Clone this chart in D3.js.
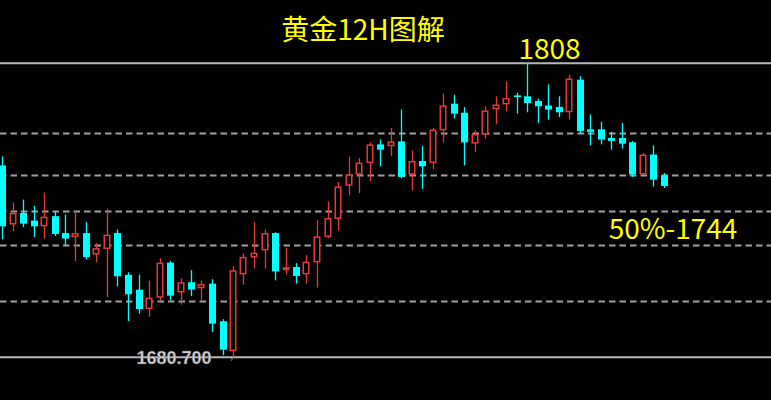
<!DOCTYPE html>
<html>
<head>
<meta charset="utf-8">
<script src="https://cdn.jsdelivr.net/npm/d3@7/dist/d3.min.js"></script>
<style>
  html, body { margin: 0; padding: 0; background: #000; }
  svg { display: block; }
</style>
</head>
<body>
<svg id="chart" width="771" height="400"></svg>
<script>
// ---- data ----
const openP  = [1763.8,1738.2,1743.2,1739.9,1737.4,1741.8,1734.5,1732.8,1734.5,1725.2,1727.6,1734.5,1716.4,1710.0,1701.6,1706.5,1721.7,1708.8,1713.2,1710.6,1712.6,1696.3,1683.4,1716.6,1723.9,1727.0,1734.5,1718.7,1719.8,1716.6,1721.8,1732.8,1740.6,1755.0,1759.8,1764.8,1772.9,1772.1,1774.2,1759.8,1765.7,1764.8,1779.0,1790.5,1786.6,1773.2,1777.1,1788.1,1790.2,1794.1,1793.7,1791.7,1789.7,1789.1,1786.8,1800.9,1779.4,1779.4,1775.7,1775.7,1773.8,1759.9,1768.5,1759.5];
const highP  = [1767.7,1747.7,1749.0,1746.2,1752.1,1743.9,1742.5,1744.0,1739.2,1730.2,1745.1,1736.0,1717.5,1716.5,1713.9,1723.6,1722.4,1715.0,1718.4,1713.9,1714.5,1697.2,1720.2,1725.6,1739.2,1736.0,1734.8,1728.2,1721.5,1724.9,1740.0,1748.2,1756.6,1767.6,1767.0,1773.8,1775.0,1780.0,1788.0,1770.3,1772.2,1780.0,1794.9,1794.4,1789.1,1779.0,1789.4,1793.7,1800.2,1795.3,1808.0,1792.7,1798.9,1793.7,1803.0,1802.4,1785.9,1782.6,1778.3,1782.2,1774.4,1769.2,1772.4,1760.5];
const lowP   = [1731.8,1735.4,1737.1,1732.8,1732.1,1733.2,1729.2,1722.4,1723.0,1721.8,1706.8,1711.4,1696.4,1699.6,1698.3,1705.4,1705.4,1703.5,1707.2,1705.4,1691.7,1681.6,1680.7,1712.1,1719.1,1719.1,1714.0,1716.6,1712.6,1712.6,1710.9,1732.2,1735.4,1750.8,1751.8,1756.9,1763.4,1767.9,1758.2,1753.0,1753.6,1762.1,1773.8,1784.1,1763.8,1769.6,1775.4,1781.6,1787.2,1786.2,1786.8,1782.2,1783.6,1784.7,1783.6,1777.3,1772.5,1772.9,1770.6,1771.1,1758.8,1759.9,1754.7,1754.0];
const closeP = [1737.4,1743.2,1738.6,1737.4,1741.6,1734.1,1732.1,1734.5,1724.1,1728.0,1733.8,1715.8,1708.0,1701.6,1706.5,1721.7,1707.4,1713.2,1710.0,1712.4,1695.3,1684.0,1718.4,1724.2,1726.0,1734.5,1717.9,1719.7,1715.9,1722.1,1733.1,1741.0,1754.7,1759.9,1765.0,1772.9,1770.6,1774.2,1758.8,1765.7,1763.4,1779.3,1789.8,1786.2,1773.8,1777.4,1787.6,1790.2,1793.0,1793.4,1790.8,1789.4,1788.0,1786.8,1801.4,1778.7,1778.3,1775.0,1774.4,1773.2,1759.9,1768.5,1757.6,1754.9];

const swingHigh = 1808;
const swingLow = 1680.7;
const fibLevels = [1778.0, 1759.6, 1744.2, 1729.3, 1705.2];

const titleText = "黄金12H图解";
const highLabel = "1808";
const fibLabel = "50%-1744";
const lowLabel = "1680.700";

// ---- drawing ----
const W = 771, H = 400;
const svg = d3.select("#chart");
svg.append("rect").attr("width", W).attr("height", H).attr("fill", "#000");

const candles = openP.map((o, i) => ({ i, o, h: highP[i], l: lowP[i], c: closeP[i] }));

const x = d3.scaleLinear().domain([0, candles.length - 1]).range([2, 663.5]);
const y = d3.scaleLinear().domain([swingLow, swingHigh]).range([357.3, 63.3]);

const UP = "#e23a3a", DOWN = "#00ffff";
const bodyW = 7;

// dashed fib lines
svg.append("g").selectAll("line").data(fibLevels).join("line")
  .attr("x1", 0).attr("x2", W)
  .attr("y1", d => Math.round(y(d)) + 0.5).attr("y2", d => Math.round(y(d)) + 0.5)
  .attr("stroke", "#a0a0a0").attr("stroke-width", 1.8)
  .attr("stroke-dasharray", "6.5,4");

// solid swing lines
svg.append("g").selectAll("line").data([swingHigh, swingLow]).join("line")
  .attr("x1", 0).attr("x2", W)
  .attr("y1", d => y(d)).attr("y2", d => y(d))
  .attr("stroke", "#b8b8b8").attr("stroke-width", 2);

// candles
const g = svg.append("g");
g.selectAll("line.wick").data(candles).join("line")
  .attr("class", "wick")
  .attr("x1", d => Math.round(x(d.i)) + 0.5).attr("x2", d => Math.round(x(d.i)) + 0.5)
  .attr("y1", d => y(d.h)).attr("y2", d => y(d.l))
  .attr("stroke", d => d.c >= d.o ? UP : DOWN)
  .attr("stroke-width", 1.3);

g.selectAll("rect.body").data(candles).join("rect")
  .attr("class", "body")
  .attr("x", d => d.c >= d.o ? Math.round(x(d.i)) - 3 + 0.75 - 0.5 : Math.round(x(d.i)) - 3)
  .attr("width", d => d.c >= d.o ? bodyW - 1.5 : bodyW)
  .attr("y", d => y(Math.max(d.o, d.c)) + (d.c >= d.o ? 0.75 : 0))
  .attr("height", d => Math.max(1.5, Math.abs(y(d.o) - y(d.c)) - (d.c >= d.o ? 1.5 : 0)))
  .attr("fill", d => d.c >= d.o ? "#000" : DOWN)
  .attr("stroke", d => d.c >= d.o ? UP : "none")
  .attr("stroke-width", 1.5);

// texts
const cjk = "'Noto Sans CJK SC', 'Noto Sans', sans-serif";
svg.append("text").text(titleText)
  .attr("x", 363).attr("y", 40)
  .attr("text-anchor", "middle")
  .attr("font-family", cjk).attr("font-size", 28)
  .attr("fill", "#ffff00");

svg.append("text").text(highLabel)
  .attr("x", 549.5).attr("y", 59)
  .attr("text-anchor", "middle")
  .attr("font-family", cjk).attr("font-size", 28)
  .attr("fill", "#ffff00");

svg.append("text").text(fibLabel)
  .attr("x", 673).attr("y", 238.5)
  .attr("text-anchor", "middle")
  .attr("font-family", cjk).attr("font-size", 28)
  .attr("fill", "#ffff00");

svg.append("text").text(lowLabel)
  .attr("x", 174).attr("y", 363.5)
  .attr("text-anchor", "middle")
  .attr("font-family", "'Liberation Sans', Arial, sans-serif")
  .attr("font-weight", "bold").attr("font-size", 18)
  .attr("fill", "#d4d4dc")
  .attr("stroke", "#555").attr("stroke-width", 0.4);

svg.append("text").text("›")
  .attr("x", 230).attr("y", 362)
  .attr("font-family", "'Liberation Sans', Arial, sans-serif")
  .attr("font-size", 9)
  .attr("fill", "#aaaaaa");
</script>
</body>
</html>
